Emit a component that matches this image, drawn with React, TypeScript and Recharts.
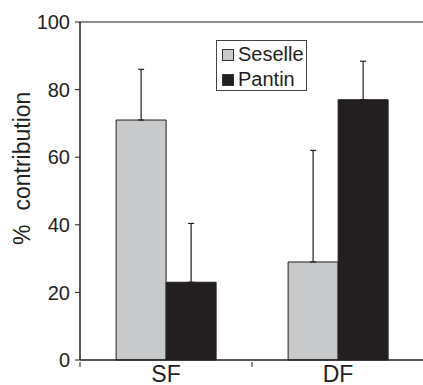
import React from 'react'
import {
  BarChart,
  Bar,
  XAxis,
  YAxis,
  ErrorBar,
  ReferenceLine,
} from 'recharts'

const categories = ['SF', 'DF']
const seselle = [71, 29]
const seselleErr = [15, 33]
const pantin = [23, 77]
const pantinErr = [17.4, 11.4]
const yTicks = [0, 20, 40, 60, 80, 100]

const INK = '#231f20'
const GREY = '#c8c9cb'
const FONT = '"Liberation Sans", Arial, Helvetica, sans-serif'

const data = categories.map((c, i) => ({
  cat: c,
  seselle: seselle[i],
  seselleErr: [0, seselleErr[i]],
  pantin: pantin[i],
  pantinErr: [0, pantinErr[i]],
}))

const legendItems = [
  { label: 'Seselle', color: GREY },
  { label: 'Pantin', color: INK },
]

function BoxLegend() {
  return (
    <div
      style={{
        position: 'absolute',
        left: 216,
        top: 40,
        width: 91,
        height: 51,
        boxSizing: 'border-box',
        border: '1px solid #444',
        background: '#fff',
        padding: '1px 0 0 5px',
        fontFamily: FONT,
        fontSize: 20,
        color: INK,
        lineHeight: '25px',
      }}
    >
      {legendItems.map((it) => (
        <div key={it.label} style={{ display: 'flex', alignItems: 'center' }}>
          <span
            style={{
              display: 'inline-block',
              width: 10,
              height: 10,
              background: it.color,
              border: '1px solid #333',
              marginRight: 4,
            }}
          />
          {it.label}
        </div>
      ))}
    </div>
  )
}

// y-axis title, sits a bit above the middle like the original
const YTitle = () => (
  <text
    x={30}
    y={245}
    transform="rotate(-90 30 245)"
    textAnchor="start"
    fill={INK}
    fontSize={23}
    fontFamily={FONT}
  >
    <tspan>%</tspan>
    <tspan dx={14}>contribution</tspan>
  </text>
)

// category label plus the little tick marks at the category edges
function CatTick(props: any) {
  const { x, y, payload, index, width } = props
  const band = width / categories.length
  const y0 = y - 4
  return (
    <g>
      {index === 0 && (
        <line x1={x - band / 2} x2={x - band / 2} y1={y0} y2={y0 + 5} stroke={INK} />
      )}
      <line x1={x + band / 2} x2={x + band / 2} y1={y0} y2={y0 + 5} stroke={INK} />
      <text
        x={x}
        y={y}
        dy="0.71em"
        textAnchor="middle"
        fill={INK}
        fontSize={23}
        fontFamily={FONT}
      >
        {payload.value}
      </text>
    </g>
  )
}

export default function App() {
  return (
    <div style={{ position: 'fixed', left: 0, top: 0, background: '#fff' }}>
      <BarChart
        width={424}
        height={385}
        data={data}
        margin={{ top: 22, right: 0, bottom: 0, left: 0 }}
        barCategoryGap="21%"
        barGap={0}
      >
        <XAxis
          dataKey="cat"
          height={25}
          axisLine={{ stroke: INK, strokeWidth: 1.5 }}
          tickLine={false}
          tickSize={4}
          tick={<CatTick />}
        />
        <YAxis
          width={80}
          domain={[0, 100]}
          ticks={yTicks}
          axisLine={{ stroke: INK, strokeWidth: 1.5 }}
          tickLine={{ stroke: INK }}
          tickSize={5}
          tickMargin={5}
          tick={{ fill: INK, fontSize: 20, fontFamily: FONT }}
          label={<YTitle />}
        />
        <ReferenceLine y={100} stroke={INK} strokeWidth={1} />
        <Bar dataKey="seselle" name="Seselle" fill={GREY} stroke={INK} strokeWidth={1} isAnimationActive={false}>
          <ErrorBar dataKey="seselleErr" direction="y" width={3} stroke={INK} strokeWidth={1.2} />
        </Bar>
        <Bar dataKey="pantin" name="Pantin" fill={INK} stroke={INK} strokeWidth={1} isAnimationActive={false}>
          <ErrorBar dataKey="pantinErr" direction="y" width={3} stroke={INK} strokeWidth={1.2} />
        </Bar>
      </BarChart>
      <BoxLegend />
    </div>
  )
}
